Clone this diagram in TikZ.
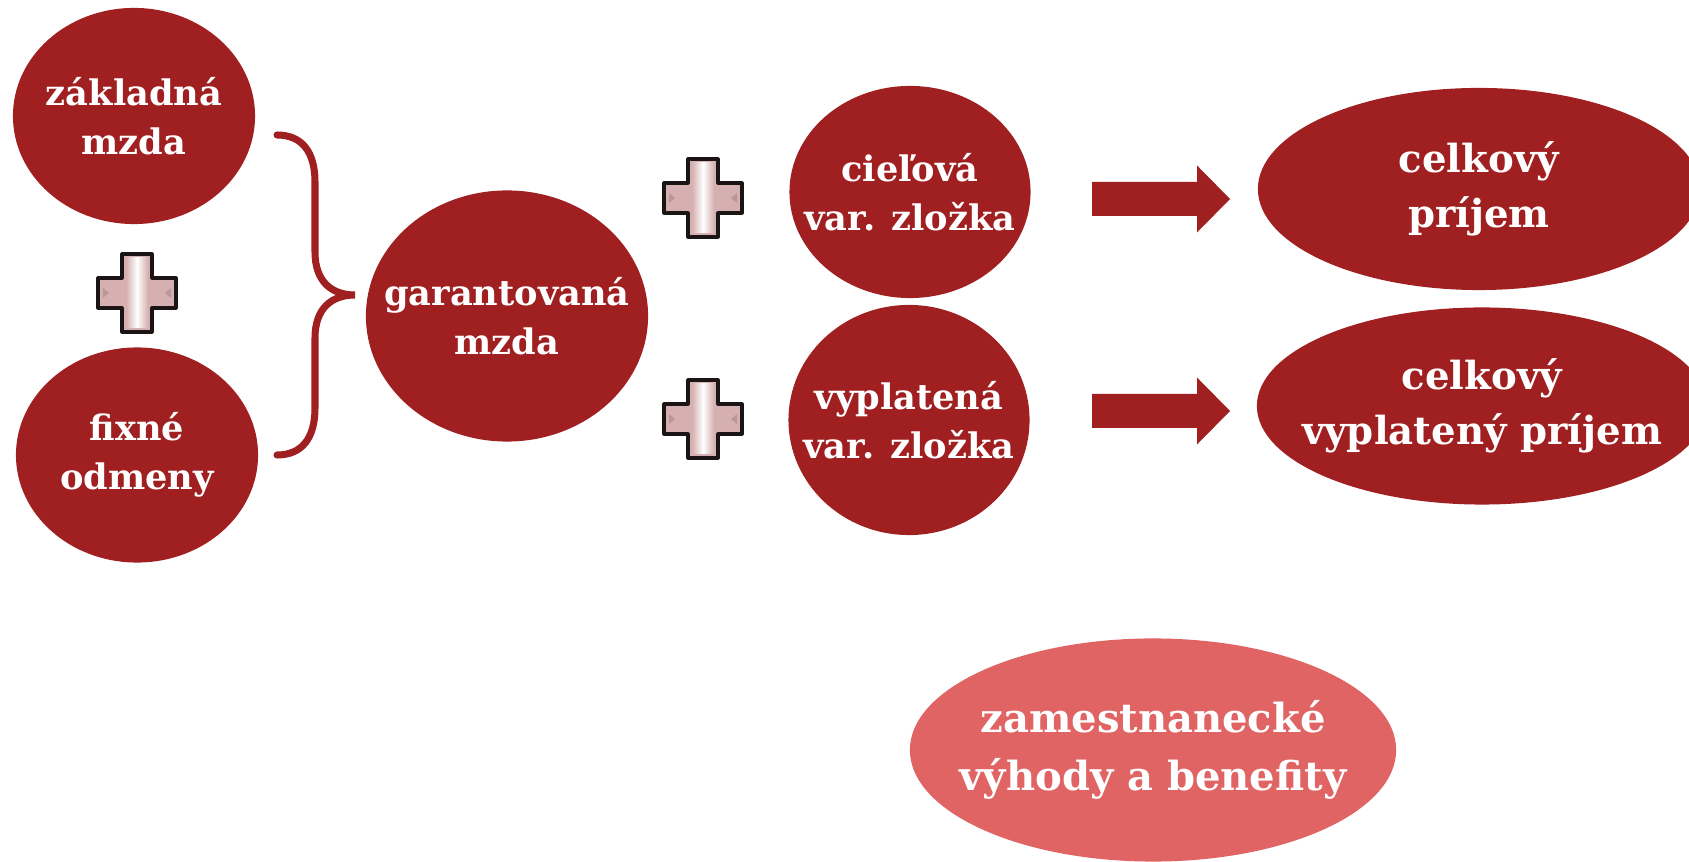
\documentclass[tikz,border=0pt]{standalone}
\usepackage{fontspec}
\setmainfont{DejaVu Serif}
\usetikzlibrary{shapes.geometric}
\definecolor{Wine}{HTML}{A01F21}
\definecolor{Coral}{HTML}{E06464}
\definecolor{PlusPink}{HTML}{D6B0B0}
\definecolor{PlusEdge}{HTML}{1A1414}

\tikzset{
  plusmark/.pic={
    \fill[PlusPink]
      (-15,-39) -- (15,-39) -- (15,-15) -- (39,-15) -- (39,15) -- (15,15) -- (15,39)
      -- (-15,39) -- (-15,15) -- (-39,15) -- (-39,-15) -- (-15,-15) -- cycle;
    \shade[left color=PlusPink, right color=PlusPink, middle color=white] (-11,-35) rectangle (11,35);
    \fill[PlusPink!60!black, opacity=0.35] (-34,-5) -- (-28,0) -- (-34,5) -- cycle;
    \fill[PlusPink!60!black, opacity=0.35] (34,-5) -- (28,0) -- (34,5) -- cycle;
    \draw[PlusEdge, line width=0.9pt, line join=round]
      (-15,-39) -- (15,-39) -- (15,-15) -- (39,-15) -- (39,15) -- (15,15) -- (15,39)
      -- (-15,39) -- (-15,15) -- (-39,15) -- (-39,-15) -- (-15,-15) -- cycle;
  }
}

\begin{document}
\begin{tikzpicture}[x=0.01cm, y=-0.01cm,
  bubble/.style={ellipse, fill=Wine, inner sep=0pt},
  bubbletext/.style={text=white, align=center, inner sep=0pt,
    font=\bfseries\fontsize{10}{14}\selectfont},
  bigtext/.style={bubbletext, font=\bfseries\fontsize{11}{15.5}\selectfont},
  blockarrow/.style={fill=Wine}]
  \useasboundingbox (0,0) rectangle (1689,862);
  \clip (0,0) rectangle (1689,862);

  % left column
  \node[bubble, minimum width=2.42cm, minimum height=2.16cm,
    label={[bubbletext]center:{základná\\mzda}}] (basic) at (134,116) {};
  \node[bubble, minimum width=2.42cm, minimum height=2.15cm,
    label={[bubbletext]center:{fixné\\odmeny}}] (fixed) at (137,455) {};
  \pic at (137,293) {plusmark};

  % brace
  \draw[Wine, line width=2pt, line cap=round]
    (277,135) .. controls (302,135) and (315,152) .. (315,182) -- (315,252)
    .. controls (315,282) and (332,295) .. (355,295)
    .. controls (332,295) and (315,308) .. (315,338) -- (315,408)
    .. controls (315,438) and (302,455) .. (277,455);

  \node[bubble, minimum width=2.82cm, minimum height=2.51cm,
    label={[bubbletext]center:{garantovaná\\mzda}}] (guaranteed) at (507,316) {};

  % variable parts
  \pic at (703,198) {plusmark};
  \pic at (703,419) {plusmark};
  \node[bubble, minimum width=2.41cm, minimum height=2.12cm,
    label={[bubbletext]center:{cieľová\\var. zložka}}] (target) at (910,192) {};
  \node[bubble, minimum width=2.41cm, minimum height=2.30cm,
    label={[bubbletext]center:{vyplatená\\var. zložka}}] (paidvar) at (909,420) {};

  % block arrows
  \coordinate (arrowA) at (1092,199);
  \coordinate (arrowB) at (1092,411);
  \foreach \start in {arrowA, arrowB}
    \fill[blockarrow] (\start) ++(0,-17) -- ++(105,0) -- ++(0,-16.5) -- ++(33,33.5)
      -- ++(-33,33.5) -- ++(0,-16.5) -- ++(-105,0) -- cycle;

  % totals
  \node[bubble, minimum width=4.42cm, minimum height=2.02cm,
    label={[bigtext]center:{celkový\\príjem}}] (total) at (1479,189) {};
  \node[bubble, minimum width=4.50cm, minimum height=1.97cm,
    label={[bigtext]center:{celkový\\vyplatený príjem}}] (totalpaid) at (1482,406) {};

  \node[bubble, fill=Coral, minimum width=4.86cm, minimum height=2.23cm,
    label={[bubbletext, font=\bfseries\fontsize{11.4}{16.5}\selectfont]center:{zamestnanecké\\výhody a benefity}}] (benefits) at (1153,750) {};
\end{tikzpicture}
\end{document}
